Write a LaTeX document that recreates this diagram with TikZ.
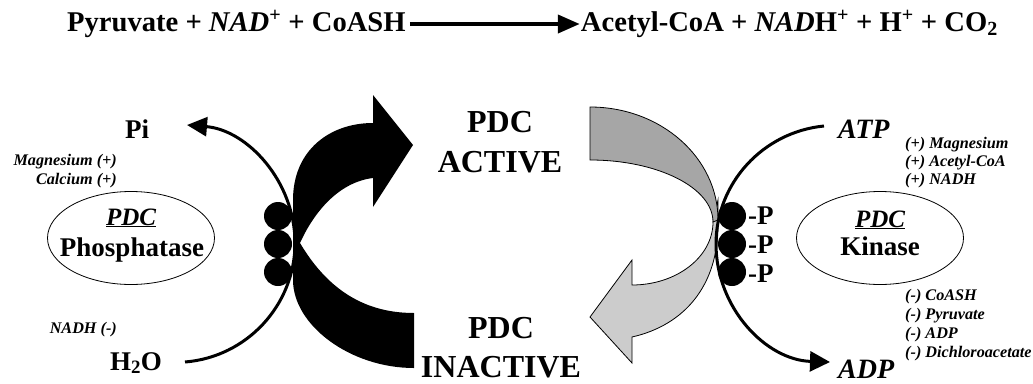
\documentclass[tikz,border=0pt]{standalone}
\usepackage{fontspec}
\setmainfont{Liberation Serif}
\usetikzlibrary{arrows.meta,shapes.geometric}
\newcommand{\myfs}[1]{\fontsize{#1}{#1}\selectfont}
\definecolor{darkg}{HTML}{A6A6A6}
\definecolor{lightg}{HTML}{CCCCCC}
\tikzset{
  eq/.style={font={\bfseries\myfs{28.6}}, inner sep=0pt},
  lbl/.style={font={\bfseries\myfs{27}}, inner sep=0pt},
  ilbl/.style={font={\bfseries\itshape\myfs{28}}, inner sep=0pt},
  big/.style={font={\bfseries\myfs{32}}, inner sep=0pt},
  small/.style={font={\bfseries\itshape\myfs{16.2}}, inner sep=0pt},
  pdcu/.style={font={\bfseries\itshape\myfs{25}}, inner sep=0pt},
  plbl/.style={font={\bfseries\myfs{27}}, inner sep=0pt},
  enzyme/.style={ellipse, draw, line width=0.8pt, minimum width=167pt, minimum height=93pt, inner sep=0pt},
  blob/.style={circle, fill=black, minimum size=28pt, inner sep=0pt},
  curve/.style={line width=3pt},
  ribbon/.style={draw=black, line width=0.8pt},
}
\begin{document}
\begin{tikzpicture}[x=1pt,y=-1pt]
\fill[white] (0,0) rectangle (1033,383);
\useasboundingbox (0,0) rectangle (1033,383);

% equation
\node[eq, anchor=base west] (eqL) at (67,31) {Pyruvate + \textit{NAD}\textsuperscript{+} + CoASH};
\node[eq, anchor=base east] (eqR) at (998,31) {Acetyl-CoA + \textit{NAD}H\textsuperscript{+} + H\textsuperscript{+} + CO\textsubscript{2}};
\draw[line width=4pt, -{Triangle[length=22pt,width=18pt]}] ([xshift=4pt,yshift=7pt]eqL.base east) -- ([xshift=-1pt,yshift=7pt]eqR.base west);

% gray ribbon arrow (kinase side)
\filldraw[ribbon, fill=lightg] (713,222) -- (718,200) -- (718,225) .. controls (718,285) and (685,325) .. (632,337) -- (632,363) -- (590,317) -- (632,260) -- (632,285) .. controls (676.7,285) and (713,256.8) .. (713,222) -- cycle;
\filldraw[ribbon, fill=darkg] (590,107) .. controls (660.7,107) and (718,157.6) .. (718,220) -- (713,222) .. controls (713,187.8) and (657.9,160) .. (590,160) -- cycle;

% black arrow (phosphatase side)
\fill[black] (414,368) .. controls (350,368) and (293,325) .. (293,280) -- (293,200) .. controls (293,150) and (330,123) .. (373,123) -- (373,95) -- (413,145) -- (373,207) -- (373,178) .. controls (340,182) and (315,210) .. (300,243) .. controls (325,285) and (360,313) .. (414,313) -- cycle;

% state labels
\node[big, anchor=base] (act1) at (500,132) {PDC};
\node[big, anchor=base] (act2) at (500,172) {ACTIVE};
\node[big, anchor=base] (ina1) at (501,338) {PDC};
\node[big, anchor=base] (ina2) at (501,377) {INACTIVE};

% left side
\node[lbl, anchor=base] (pi) at (137,138) {Pi};
\node[small, anchor=base east] (mg1) at (117,165) {Magnesium (+)};
\node[small, anchor=base east] (ca1) at (117,184) {Calcium (+)};
\node[enzyme] (pase) at (131,238) {};
\node[pdcu, anchor=base] (pase1) at (131,225) {\underline{PDC}};
\node[lbl, anchor=base] (pase2) at (132,256) {Phosphatase};
\node[small, anchor=base east] (nadh) at (117,333) {NADH (-)};
\node[lbl, anchor=base] (h2o) at (136,370) {H\textsubscript{2}O};

\coordinate (lstart) at (185,362);
\coordinate (lmid) at (295,243);
\coordinate (lend) at (187,125);
\draw[curve, -{Triangle[length=20pt,width=19pt]}] (lstart) .. controls (247,357) and (295,305) .. (lmid) .. controls (295,181) and (247,130) .. (lend);

\node[blob] (l1) at (278,216) {};
\node[blob] (l2) at (278,244) {};
\node[blob] (l3) at (278,272) {};

% right side
\node[ilbl, anchor=base west] (atp) at (838,138) {ATP};
\node[small, anchor=base west] (k1) at (905,148) {(+) Magnesium};
\node[small, anchor=base west] (k2) at (905,166) {(+) Acetyl-CoA};
\node[small, anchor=base west] (k3) at (905,184) {(+) NADH};
\node[enzyme] (kin) at (880,238) {};
\node[pdcu, anchor=base] (kin1) at (880,227) {\underline{PDC}};
\node[lbl, anchor=base] (kin2) at (880,255) {Kinase};
\node[small, anchor=base west] (m1) at (905,300) {(-) CoASH};
\node[small, anchor=base west] (m2) at (905,319) {(-) Pyruvate};
\node[small, anchor=base west] (m3) at (905,338) {(-) ADP};
\node[small, anchor=base west] (m4) at (905,357) {(-) Dichloroacetate};
\node[ilbl, anchor=base west] (adp) at (838,378) {ADP};

\coordinate (rstart) at (824,126);
\coordinate (rmid) at (716,244);
\coordinate (rend) at (830,362);
\draw[curve, -{Triangle[length=20pt,width=20pt]}] (rstart) .. controls (763,132) and (716,183) .. (rmid) .. controls (716,308) and (766,360) .. (rend);

\node[blob] (r1) at (732,216) {};
\node[blob] (r2) at (732,244) {};
\node[blob] (r3) at (732,272) {};
\node[plbl, anchor=base west] (p1) at (748,224) {-P};
\node[plbl, anchor=base west] (p2) at (748,253) {-P};
\node[plbl, anchor=base west] (p3) at (748,282) {-P};
\end{tikzpicture}
\end{document}
